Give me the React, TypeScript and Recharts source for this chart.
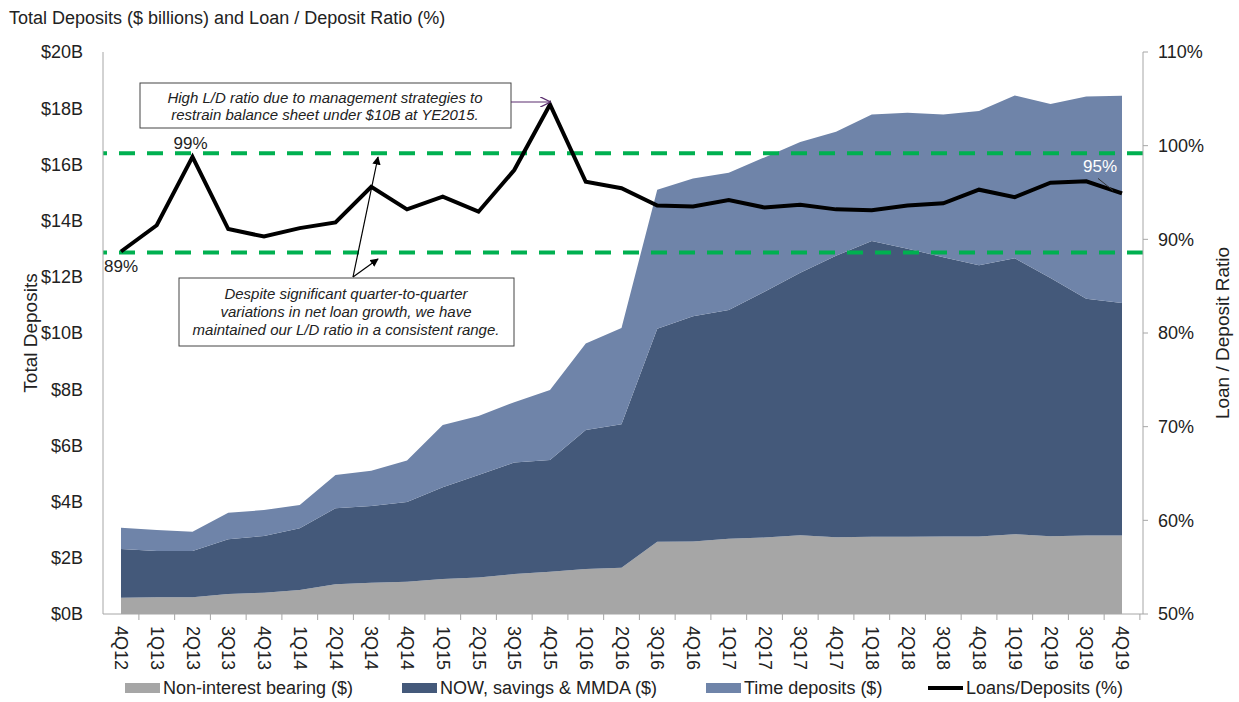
import React from "react";
import {
  ComposedChart,
  Area,
  Line,
  XAxis,
  YAxis,
  ReferenceLine,
  Legend,
  LabelList,
} from "recharts";

const quarters = [
  "4Q12", "1Q13", "2Q13", "3Q13", "4Q13", "1Q14", "2Q14", "3Q14", "4Q14",
  "1Q15", "2Q15", "3Q15", "4Q15", "1Q16", "2Q16", "3Q16", "4Q16", "1Q17",
  "2Q17", "3Q17", "4Q17", "1Q18", "2Q18", "3Q18", "4Q18", "1Q19", "2Q19",
  "3Q19", "4Q19",
];

// $ billions
const nonInterest = [
  0.58, 0.6, 0.6, 0.71, 0.76, 0.85, 1.06, 1.11, 1.15, 1.25, 1.3, 1.42, 1.5,
  1.6, 1.65, 2.57, 2.58, 2.68, 2.72, 2.8, 2.73, 2.75, 2.75, 2.76, 2.76, 2.84,
  2.77, 2.79, 2.79,
];
const nowSavings = [
  1.73, 1.64, 1.64, 1.95, 2.02, 2.2, 2.7, 2.73, 2.84, 3.26, 3.65, 3.97, 3.98,
  4.95, 5.1, 7.58, 8.02, 8.14, 8.75, 9.34, 10.02, 10.52, 10.25, 9.94, 9.65,
  9.82, 9.19, 8.43, 8.28,
];
const timeDeposits = [
  0.76, 0.75, 0.69, 0.94, 0.92, 0.83, 1.19, 1.26, 1.47, 2.22, 2.1, 2.15, 2.49,
  3.08, 3.43, 4.95, 4.9, 4.88, 4.78, 4.66, 4.41, 4.51, 4.84, 5.08, 5.49, 5.79,
  6.19, 7.2, 7.37,
];
// %
const loanDeposit = [
  88.7, 91.5, 98.8, 91.1, 90.3, 91.2, 91.8, 95.6, 93.2, 94.55, 92.95, 97.4,
  104.4, 96.15, 95.45, 93.6, 93.5, 94.2, 93.4, 93.7, 93.2, 93.1, 93.6, 93.85,
  95.3, 94.5, 96.05, 96.2, 94.9,
];

const depositTicks = [0, 2, 4, 6, 8, 10, 12, 14, 16, 18, 20];
const ratioTicks = [50, 60, 70, 80, 90, 100, 110];
const rangeHigh = 99.2;
const rangeLow = 88.6;

const data = quarters.map((q, i) => ({
  q,
  nonInterest: nonInterest[i],
  nowSavings: nowSavings[i],
  timeDeposits: timeDeposits[i],
  loanDeposit: loanDeposit[i],
}));

const FONT = "'Liberation Sans', Arial, sans-serif";
const GREY = "#a6a6a6";
const NAVY = "#44597a";
const STEEL = "#6f84a9";
const GREEN = "#00b050";
const TEXT = "#222";
const HALF_STEP = 17.9;

const legendItems = [
  { label: "Non-interest bearing ($)", color: GREY, line: false, width: 277 },
  { label: "NOW, savings & MMDA ($)", color: NAVY, line: false, width: 304 },
  { label: "Time deposits ($)", color: STEEL, line: false, width: 222 },
  { label: "Loans/Deposits (%)", color: "#000", line: true, width: 220 },
];

function QuarterTick(props: any) {
  const { x, y, payload } = props;
  return (
    <g>
      <line x1={x + HALF_STEP} x2={x + HALF_STEP} y1={y} y2={y + 6} stroke={GREY} />
      <text
        transform={`translate(${x},${y + 12}) rotate(90)`}
        textAnchor="start"
        dominantBaseline="central"
        fontSize={18}
        fontFamily={FONT}
        fill={TEXT}
      >
        {payload.value}
      </text>
    </g>
  );
}

function RatioLabel(props: any) {
  const { x, y, value, index } = props;
  const txt = `${Math.round(value)}%`;
  if (index === 0) {
    return (
      <text x={x} y={y + 15} textAnchor="middle" dominantBaseline="central" fontSize={17} fontFamily={FONT} fill={TEXT}>
        {txt}
      </text>
    );
  }
  if (index === 2) {
    return (
      <text x={x - 2} y={y - 13} textAnchor="middle" dominantBaseline="central" fontSize={17} fontFamily={FONT} fill={TEXT}>
        {txt}
      </text>
    );
  }
  if (index === quarters.length - 1) {
    return (
      <g>
        <line x1={x - 24} y1={y - 15} x2={x - 9} y2={y - 3} stroke="#333" strokeWidth={1} />
        <text x={x - 22} y={y - 27} textAnchor="middle" dominantBaseline="central" fontSize={17} fontFamily={FONT} fill="#fff">
          {txt}
        </text>
      </g>
    );
  }
  return null;
}

function renderLegend() {
  return (
    <div style={{ display: "flex", alignItems: "center", paddingLeft: 125, fontFamily: FONT, fontSize: 18, color: TEXT, height: 28 }}>
      {legendItems.map((it) => (
        <div key={it.label} style={{ display: "flex", alignItems: "center", width: it.width, flex: "none", whiteSpace: "nowrap" }}>
          <span style={{ width: 35, height: it.line ? 4 : 10, background: it.color, marginRight: 3, flex: "none" }} />
          <span>{it.label}</span>
        </div>
      ))}
    </div>
  );
}

function LeftTitle(props: any) {
  const { viewBox } = props;
  const cy = viewBox.y + viewBox.height / 2;
  return (
    <text transform={`translate(30,${cy}) rotate(-90)`} textAnchor="middle" dominantBaseline="central" fontSize={19} fontFamily={FONT} fill={TEXT}>
      Total Deposits
    </text>
  );
}

function RightTitle(props: any) {
  const { viewBox } = props;
  const cy = viewBox.y + viewBox.height / 2;
  const cx = viewBox.x + 79;
  return (
    <text transform={`translate(${cx},${cy}) rotate(-90)`} textAnchor="middle" dominantBaseline="central" fontSize={19} fontFamily={FONT} fill={TEXT}>
      Loan / Deposit Ratio
    </text>
  );
}

function Annotations() {
  const noteStyle = { fontSize: 15, fontFamily: FONT, fontStyle: "italic" as const, fill: TEXT };
  return (
    <svg width={1239} height={702} style={{ position: "absolute", left: 0, top: 0, pointerEvents: "none" }}>
      <defs>
        <marker id="solidHead" viewBox="0 0 10 10" refX="9" refY="5" markerWidth="7" markerHeight="7" orient="auto">
          <path d="M0,0 L10,5 L0,10 z" fill="#000" />
        </marker>
        <marker id="openHead" viewBox="0 0 10 10" refX="9.5" refY="5" markerWidth="9" markerHeight="9" orient="auto">
          <path d="M0,0 L10,5 L0,10" fill="none" stroke="#5a2d6e" strokeWidth="1.2" />
        </marker>
      </defs>

      <rect x={140} y={83} width={371} height={45} fill="#fff" stroke="#444" />
      <text x={325} y={97} textAnchor="middle" dominantBaseline="central" {...noteStyle}>
        High L/D ratio due to management strategies to
      </text>
      <text x={325} y={114} textAnchor="middle" dominantBaseline="central" {...noteStyle}>
        restrain balance sheet under $10B at YE2015.
      </text>
      <line x1={511} y1={102} x2={550} y2={102} stroke="#5a2d6e" strokeWidth={1.2} markerEnd="url(#openHead)" />

      <rect x={179} y={278} width={335} height={68} fill="#fff" stroke="#444" />
      <text x={346} y={293} textAnchor="middle" dominantBaseline="central" {...noteStyle}>
        Despite significant quarter-to-quarter
      </text>
      <text x={346} y={311} textAnchor="middle" dominantBaseline="central" {...noteStyle}>
        variations in net loan growth, we have
      </text>
      <text x={346} y={329} textAnchor="middle" dominantBaseline="central" {...noteStyle}>
        maintained our L/D ratio in a consistent range.
      </text>
      <line x1={353} y1={277} x2={378} y2={157} stroke="#000" strokeWidth={1.2} markerEnd="url(#solidHead)" />
      <line x1={353} y1={277} x2={378} y2={259} stroke="#000" strokeWidth={1.2} markerEnd="url(#solidHead)" />
    </svg>
  );
}

export default function App() {
  return (
    <div style={{ position: "absolute", left: 0, top: 0, width: 1239, height: 702, background: "#fff", fontFamily: FONT }}>
      <div style={{ position: "absolute", left: 9, top: 7, fontSize: 18, lineHeight: "22px", color: TEXT, whiteSpace: "nowrap" }}>
        Total Deposits ($ billions) and Loan / Deposit Ratio (%)
      </div>
      <ComposedChart width={1239} height={702} data={data} margin={{ top: 52, right: 0, bottom: 0, left: 0 }}>
        <XAxis
          dataKey="q"
          height={60}
          padding={{ left: 18, right: 21 }}
          interval={0}
          tickLine={false}
          tickSize={0}
          tickMargin={0}
          axisLine={{ stroke: GREY }}
          tick={<QuarterTick />}
        />
        <YAxis
          yAxisId="left"
          width={103}
          domain={[0, 20]}
          ticks={depositTicks}
          interval={0}
          tickFormatter={(v) => `$${v}B`}
          tickLine={false}
          tickMargin={14}
          axisLine={{ stroke: GREY }}
          tick={{ fontSize: 18, fill: TEXT, fontFamily: FONT }}
          label={<LeftTitle />}
        />
        <YAxis
          yAxisId="right"
          orientation="right"
          width={96}
          domain={[50, 110]}
          ticks={ratioTicks}
          interval={0}
          tickFormatter={(v) => `${v}%`}
          tickSize={5}
          tickMargin={10}
          tickLine={{ stroke: GREY }}
          axisLine={{ stroke: GREY }}
          tick={{ fontSize: 18, fill: TEXT, fontFamily: FONT }}
          label={<RightTitle />}
        />
        <Area yAxisId="left" type="linear" dataKey="nonInterest" stackId="dep" stroke="none" fill={GREY} fillOpacity={1} isAnimationActive={false} />
        <Area yAxisId="left" type="linear" dataKey="nowSavings" stackId="dep" stroke="none" fill={NAVY} fillOpacity={1} isAnimationActive={false} />
        <Area yAxisId="left" type="linear" dataKey="timeDeposits" stackId="dep" stroke="none" fill={STEEL} fillOpacity={1} isAnimationActive={false} />
        <ReferenceLine yAxisId="right" y={rangeHigh} stroke={GREEN} strokeWidth={4} strokeDasharray="16 12" />
        <ReferenceLine yAxisId="right" y={rangeLow} stroke={GREEN} strokeWidth={4} strokeDasharray="16 12" />
        <Line yAxisId="right" type="linear" dataKey="loanDeposit" stroke="#000" strokeWidth={4} dot={false} isAnimationActive={false}>
          <LabelList dataKey="loanDeposit" content={<RatioLabel />} />
        </Line>
        <Legend verticalAlign="bottom" height={28} content={renderLegend} />
      </ComposedChart>
      <Annotations />
    </div>
  );
}
